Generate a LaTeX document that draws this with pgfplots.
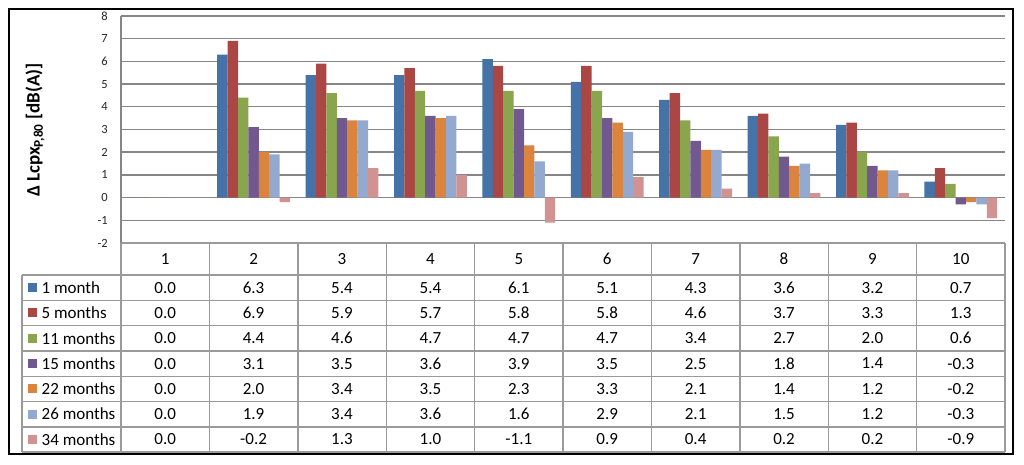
\documentclass[border=0pt]{standalone}
\usepackage{pgfplots}
\pgfplotsset{compat=1.18}
\usepackage{pgfplotstable}
\usepackage{fontspec}
\setmainfont{Carlito}
\definecolor{c1}{HTML}{4572A7}
\definecolor{c2}{HTML}{AA4643}
\definecolor{c3}{HTML}{89A54E}
\definecolor{c4}{HTML}{71588F}
\definecolor{c5}{HTML}{DB843D}
\definecolor{c6}{HTML}{93A9CF}
\definecolor{c7}{HTML}{D19392}
\definecolor{gridc}{HTML}{868686}
\definecolor{tabc}{HTML}{9A9A9A}
\pgfplotstableread{
x m1 m5 m11 m15 m22 m26 m34
1 0.0 0.0 0.0 0.0 0.0 0.0 0.0
2 6.3 6.9 4.4 3.1 2.0 1.9 -0.2
3 5.4 5.9 4.6 3.5 3.4 3.4 1.3
4 5.4 5.7 4.7 3.6 3.5 3.6 1.0
5 6.1 5.8 4.7 3.9 2.3 1.6 -1.1
6 5.1 5.8 4.7 3.5 3.3 2.9 0.9
7 4.3 4.6 3.4 2.5 2.1 2.1 0.4
8 3.6 3.7 2.7 1.8 1.4 1.5 0.2
9 3.2 3.3 2.0 1.4 1.2 1.2 0.2
10 0.7 1.3 0.6 -0.3 -0.2 -0.3 -0.9
}\data
\begin{document}
\begin{tikzpicture}[x=1pt,y=1pt]
\path[use as bounding box, fill=white] (0,0) rectangle (1024,-465);
\begin{axis}[
  at={(121pt,-243pt)}, anchor=south west,
  scale only axis, width=884pt, height=227pt,
  xmin=0.5, xmax=10.5, ymin=-2, ymax=8,
  ytick={-2,...,8}, xtick=\empty,
  ymajorgrids, grid style={gridc, line width=1.4pt},
  axis line style={draw=none}, tick style={draw=none},
  yticklabel style={font=\fontsize{12.5}{13}\selectfont, text=black!85, inner sep=0pt, xshift=-13pt},
  /pgf/number format/assume math mode=true,
  ybar=0pt, bar width=10.4pt,
  clip=false,
]
\addplot[fill=c1, draw=none] table[x=x,y=m1] {\data};
\addplot[fill=c2, draw=none] table[x=x,y=m5] {\data};
\addplot[fill=c3, draw=none] table[x=x,y=m11] {\data};
\addplot[fill=c4, draw=none] table[x=x,y=m15] {\data};
\addplot[fill=c5, draw=none] table[x=x,y=m22] {\data};
\addplot[fill=c6, draw=none] table[x=x,y=m26] {\data};
\addplot[fill=c7, draw=none] table[x=x,y=m34] {\data};
\end{axis}
% plot-area left line
\draw[gridc, line width=1.4pt] (121,-16) -- (121,-243);
% table grid
\draw[tabc, line width=1.4pt] (121,-243) -- (1005,-243);
\foreach \k in {0,...,7} {
  \draw[tabc, line width=1.4pt] (22,{-(275+\k*25.3)}) -- (1005,{-(275+\k*25.3)});
}
\draw[tabc, line width=1.4pt] (22,-275) -- (22,-452.1);
\foreach \k in {0,...,10} {
  \draw[tabc, line width=1.4pt] ({121+\k*88.4},-243) -- ({121+\k*88.4},-452.1);
}
% header
\foreach \c in {1,...,10} {
  \node[font=\fontsize{17}{18}\selectfont] at ({121+(\c-0.5)*88.4},-259) {\c};
}
% legend column
\foreach \nm/\cl [count=\r from 0] in {1 month/c1,5 months/c2,11 months/c3,15 months/c4,22 months/c5,26 months/c6,34 months/c7} {
  \fill[\cl] (28,{-(275+(\r+0.5)*25.3)-4.5}) rectangle +(9,9);
  \node[anchor=west, inner sep=0pt, font=\fontsize{17}{18}\selectfont] at (41.5,{-(275+(\r+0.5)*25.3)}) {\nm};
}
% values
\foreach \col [count=\r from 0] in {m1,m5,m11,m15,m22,m26,m34} {
  \foreach \c in {0,...,9} {
    \pgfplotstablegetelem{\c}{\col}\of\data
    \node[font=\fontsize{17}{18}\selectfont] at ({121+(\c+0.5)*88.4},{-(275+(\r+0.5)*25.3)}) {\pgfmathprintnumber[fixed,zerofill,precision=1,assume math mode=true]{\pgfplotsretval}};
  }
}
% y label
\node[rotate=90, font=\bfseries\fontsize{19}{20}\selectfont] at (35,-130) {Δ Lcpx\textsubscript{P,80} [dB(A)]};
% outer border
\draw[black, line width=2pt] (9,-9) rectangle (1013,-454);
\end{tikzpicture}
\end{document}
